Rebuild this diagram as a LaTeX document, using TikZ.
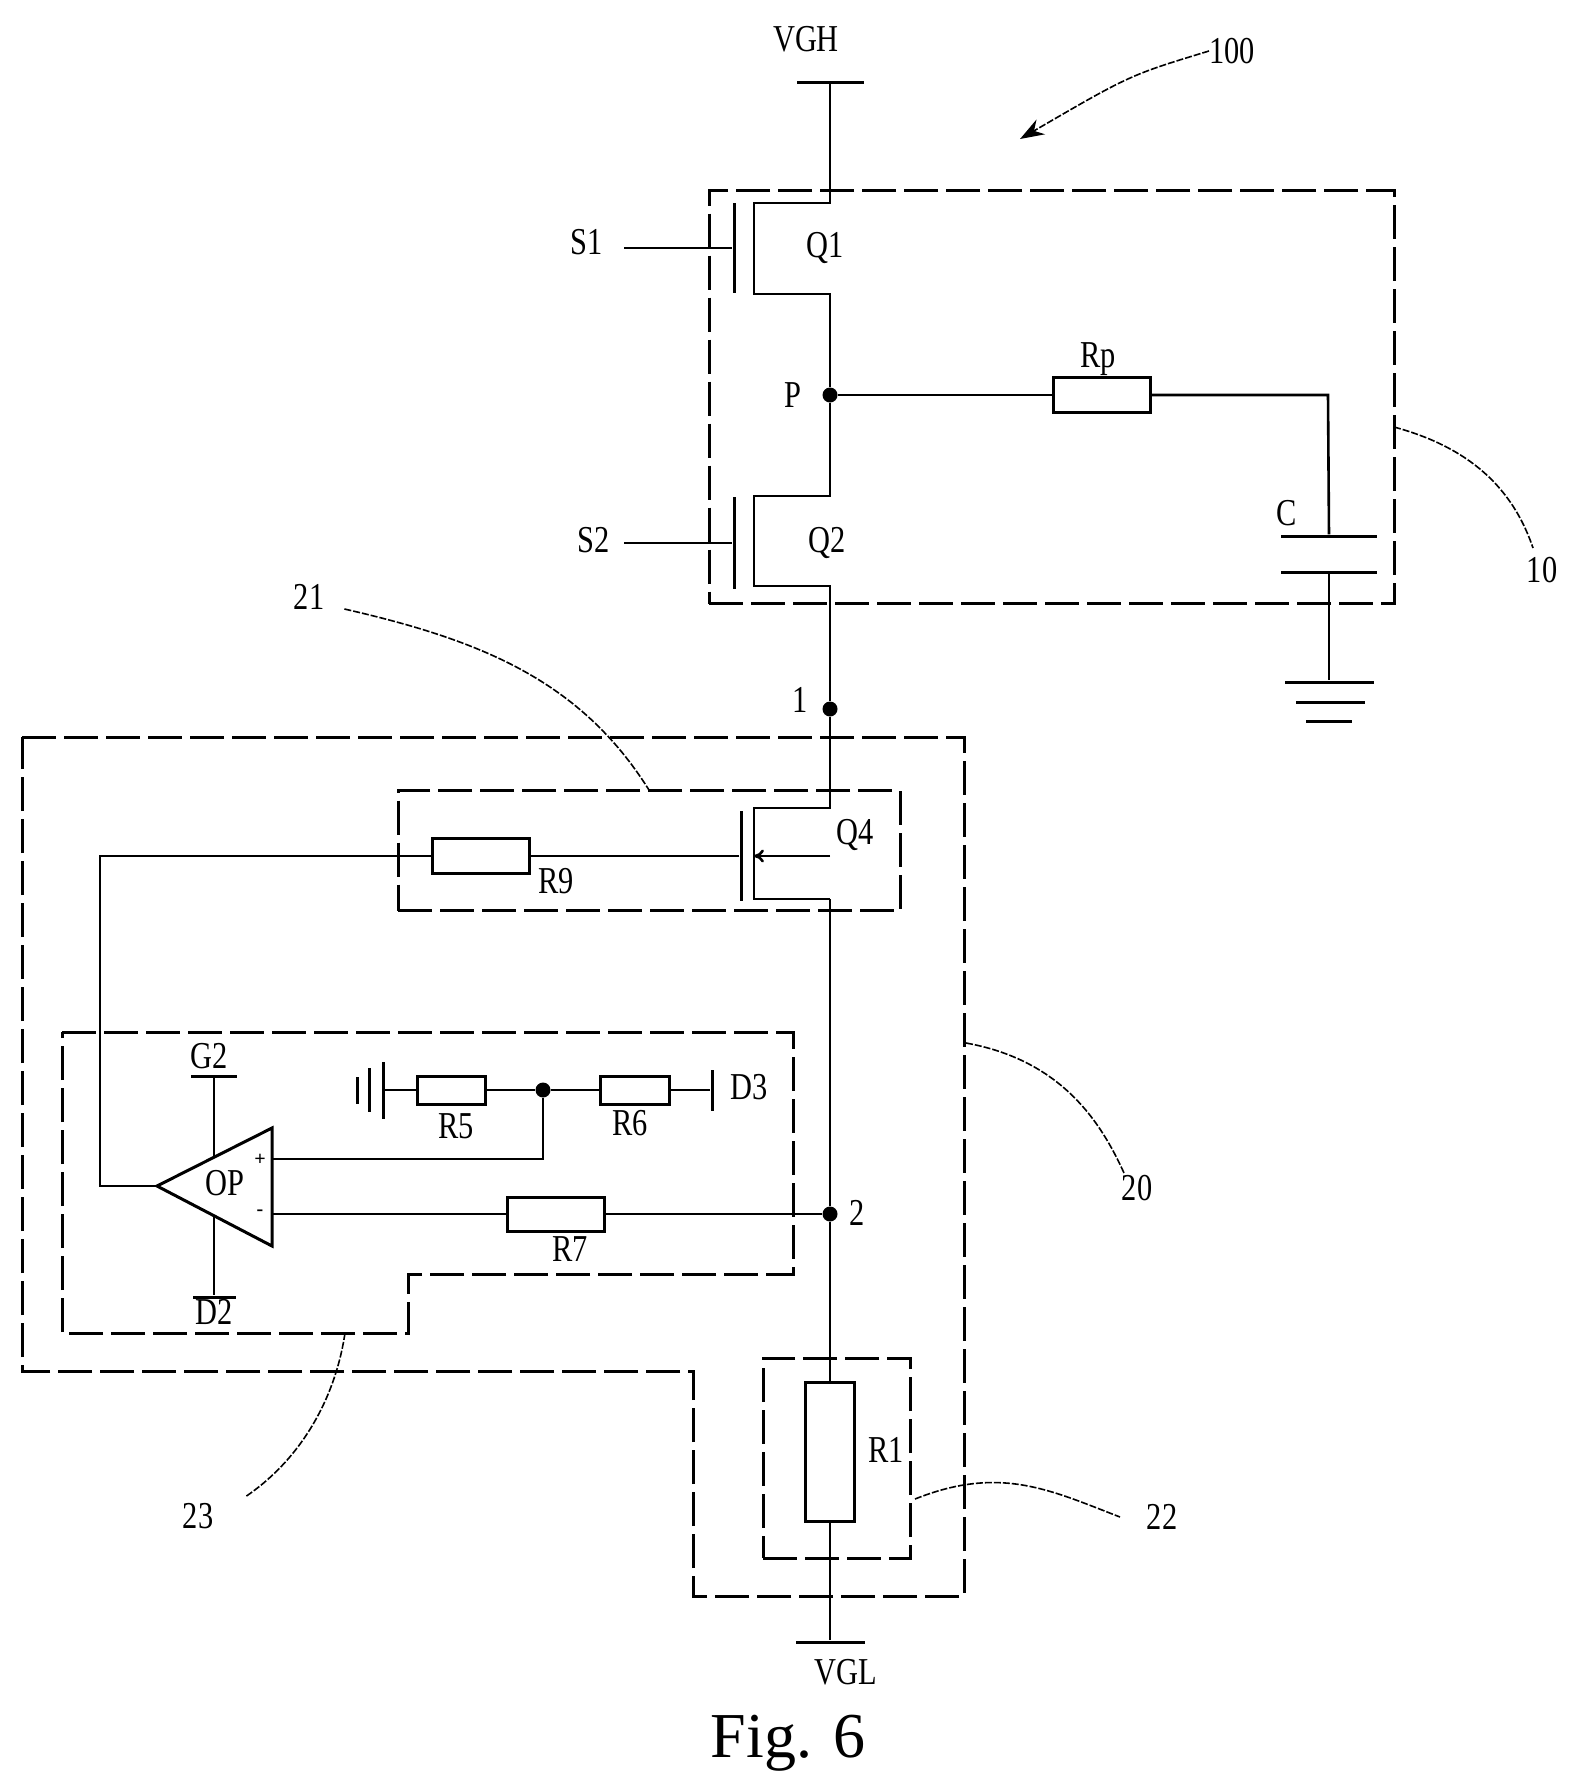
\documentclass[tikz,border=0pt]{standalone}
\usepackage{fontspec}
\setmainfont{Liberation Serif}
\newfontfamily\labelfont[FakeStretch=0.8]{Liberation Serif}
\usetikzlibrary{arrows.meta}

\begin{document}
\begin{tikzpicture}[x=1pt,y=-1pt,
wire/.style={draw=black,line width=2.6pt,line join=miter},
frame/.style={draw=black,line width=3pt,dash pattern=on 34pt off 8pt},
framebox/.style={frame,rectangle,inner sep=0pt},
res/.style={draw=black,line width=3pt,fill=white,rectangle,inner sep=0pt},
bar/.style={fill=black,rectangle,inner sep=0pt},
dot/.style={fill=black,circle,inner sep=0pt,minimum size=15pt},
lead/.style={draw=black,line width=1.6pt,dash pattern=on 7pt off 2pt},
lab/.style={font=\labelfont\fontsize{38}{38}\selectfont,inner sep=0pt}]
\useasboundingbox (0,0) rectangle (1578,1792);

\node[framebox,minimum width=685pt,minimum height=413pt] (box10) at (1051.5,397) {};
\node[framebox,minimum width=502pt,minimum height=120pt] (box21) at (649,850.5) {};
\node[framebox,minimum width=147pt,minimum height=200pt] (box22) at (836.5,1458) {};
\draw[frame] (22,737) -- (964,737) -- (964,1596) -- (693,1596) -- (693,1371) -- (22,1371) -- cycle;
\draw[frame] (62,1032) -- (793,1032) -- (793,1274) -- (408,1274) -- (408,1333) -- (62,1333) -- cycle;

\node[bar,minimum width=67pt,minimum height=3pt] (vgh) at (830,82) {};
\node[bar,minimum width=69pt,minimum height=3pt] (vgl) at (830,1642) {};
\node[dot] (p) at (830,395) {};
\node[dot] (n1) at (830,709) {};
\node[dot] (n2) at (830,1214) {};
\node[dot] (n3) at (543,1090) {};
\node[res,minimum width=97pt,minimum height=35pt] (rp) at (1102,395) {};
\node[res,minimum width=97pt,minimum height=35pt] (r9) at (481,856) {};
\node[res,minimum width=68pt,minimum height=28pt] (r5) at (451,1090) {};
\node[res,minimum width=69pt,minimum height=28pt] (r6) at (635,1090) {};
\node[res,minimum width=97pt,minimum height=34pt] (r7) at (556,1214) {};
\node[res,minimum width=49pt,minimum height=139pt] (r1) at (830,1452) {};

% transistors
\node[bar,minimum width=3pt,minimum height=90pt] (g1) at (734,248) {};
\node[bar,minimum width=3pt,minimum height=92pt] (g2) at (734,543) {};
\node[bar,minimum width=3pt,minimum height=90pt] (g4) at (741,856) {};
\coordinate (s1) at (624,248);
\coordinate (s2) at (624,543);
\coordinate (q4s) at (830,856);
\coordinate (q4d) at (830,899);
\draw[wire] (vgh) -- (830,203) -- (754,203) -- (754,294) -- (830,294) -- (p);
\draw[wire] (p) -- (830,496) -- (754,496) -- (754,586) -- (830,586) -- (n1);
\draw[wire] (n1) -- (830,808) -- (754,808) -- (754,899) -- (q4d);
\draw[wire] (n2) -- (q4d);
\draw[wire] (n2) -- (r1);
\draw[wire] (r1) -- (vgl);
\draw[wire] (s1) -- (g1);
\draw[wire] (s2) -- (g2);
\draw[wire,-{To[length=10pt,width=13pt]}] (q4s) -- (754,856);
\draw[wire] (g4) -- (r9);

% right branch
\node[bar,minimum width=96pt,minimum height=3pt] (c1) at (1329,536) {};
\node[bar,minimum width=96pt,minimum height=3pt] (c2) at (1329,572) {};
\node[bar,minimum width=89pt,minimum height=3pt] (gnd1) at (1329,682) {};
\node[bar,minimum width=69pt,minimum height=3pt] (gnd2) at (1330,702) {};
\node[bar,minimum width=46pt,minimum height=3pt] (gnd3) at (1329,721) {};
\draw[wire] (p) -- (rp);
\draw[wire] (rp) -- (1328,395) -- (c1);
\draw[wire] (c2) -- (gnd1);

% op amp part
\coordinate (optip) at (157,1186);
\coordinate (opp) at (272,1159);
\coordinate (opm) at (272,1214);
\node[bar,minimum width=46pt,minimum height=3pt] (g2bar) at (214,1076) {};
\node[bar,minimum width=43pt,minimum height=3pt] (d2bar) at (214,1297) {};
\draw[wire] (g2bar) -- (d2bar);
\draw[line width=3pt,fill=white,line join=miter] (optip) -- (272,1128) -- (272,1246) -- cycle;
\node[bar,minimum width=3pt,minimum height=57pt] (pl1) at (383,1090) {};
\node[bar,minimum width=3pt,minimum height=44pt] (pl2) at (369,1090) {};
\node[bar,minimum width=3pt,minimum height=27pt] (pl3) at (357,1090) {};
\node[bar,minimum width=3pt,minimum height=41pt] (d3bar) at (712,1090) {};
\draw[wire] (pl1) -- (r5);
\draw[wire] (r5) -- (n3);
\draw[wire] (n3) -- (r6);
\draw[wire] (r6) -- (d3bar);
\draw[wire] (n3) -- (543,1159) -- (opp);
\draw[wire] (opm) -- (r7);
\draw[wire] (r7) -- (n2);
\draw[wire] (r9) -- (100,856) -- (100,1186) -- (optip);

% labels
\node[lab] (tvgh) at (806,39) {VGH};
\node[lab] (t100) at (1232,51) {100};
\node[lab] (ts1) at (587,242) {S1};
\node[lab] (tq1) at (825,248) {Q1};
\node[lab] (tp) at (793,395) {P};
\node[lab] (trp) at (1098,359) {Rp};
\node[lab] (tc) at (1287,513) {C};
\node[lab] (ts2) at (594,540) {S2};
\node[lab] (tq2) at (827,543) {Q2};
\node[lab] (t10) at (1542,570) {10};
\node[lab] (t21) at (309,597) {21};
\node[lab] (t1) at (800,700) {1};
\node[lab] (tq4) at (855,835) {Q4};
\node[lab] (tr9) at (556,881) {R9};
\node[lab] (tg2) at (209,1056) {G2};
\node[lab] (td3) at (749,1087) {D3};
\node[lab] (tr5) at (456,1126) {R5};
\node[lab] (tr6) at (630,1123) {R6};
\node[lab] (top) at (225,1183) {OP};
\node[lab] (t20) at (1137,1188) {20};
\node[lab] (t2) at (857,1213) {2};
\node[lab] (tr7) at (570,1249) {R7};
\node[lab] (td2) at (214,1312) {D2};
\node[lab] (tr1) at (886,1450) {R1};
\node[lab] (t22) at (1162,1517) {22};
\node[lab] (t23) at (198,1516) {23};
\node[lab] (tvgl) at (846,1672) {VGL};
\node[font=\fontsize{64}{64}\selectfont,inner sep=0pt] (fig) at (788,1743) {Fig. 6};
\node[font=\bfseries\fontsize{20}{20}\selectfont,inner sep=0pt] (tplus) at (260,1160) {+};
\node[font=\bfseries\fontsize{20}{20}\selectfont,inner sep=0pt] (tminus) at (260,1213) {-};

% leaders
\coordinate (l100) at (1020,139);
\coordinate (l10) at (1394,427);
\coordinate (l21) at (649,790);
\coordinate (l20) at (966,1043);
\coordinate (l22) at (915,1499);
\coordinate (l23) at (345,1333);
\draw[lead,-{Stealth[length=24pt,width=17pt]}] (t100.west) .. controls (1130,75) .. (l100);
\draw[lead] (l10) .. controls (1460,445) and (1510,480) .. (1533,548);
\draw[lead] (t21.east) ++(20,12) .. controls (480,640) and (580,680) .. (l21);
\draw[lead] (l20) .. controls (1060,1060) and (1100,1120) .. (1124,1173);
\draw[lead] (l22) .. controls (1000,1465) and (1050,1490) .. (1120,1517);
\draw[lead] (l23) .. controls (335,1400) and (300,1460) .. (245,1497);
\end{tikzpicture}
\end{document}
